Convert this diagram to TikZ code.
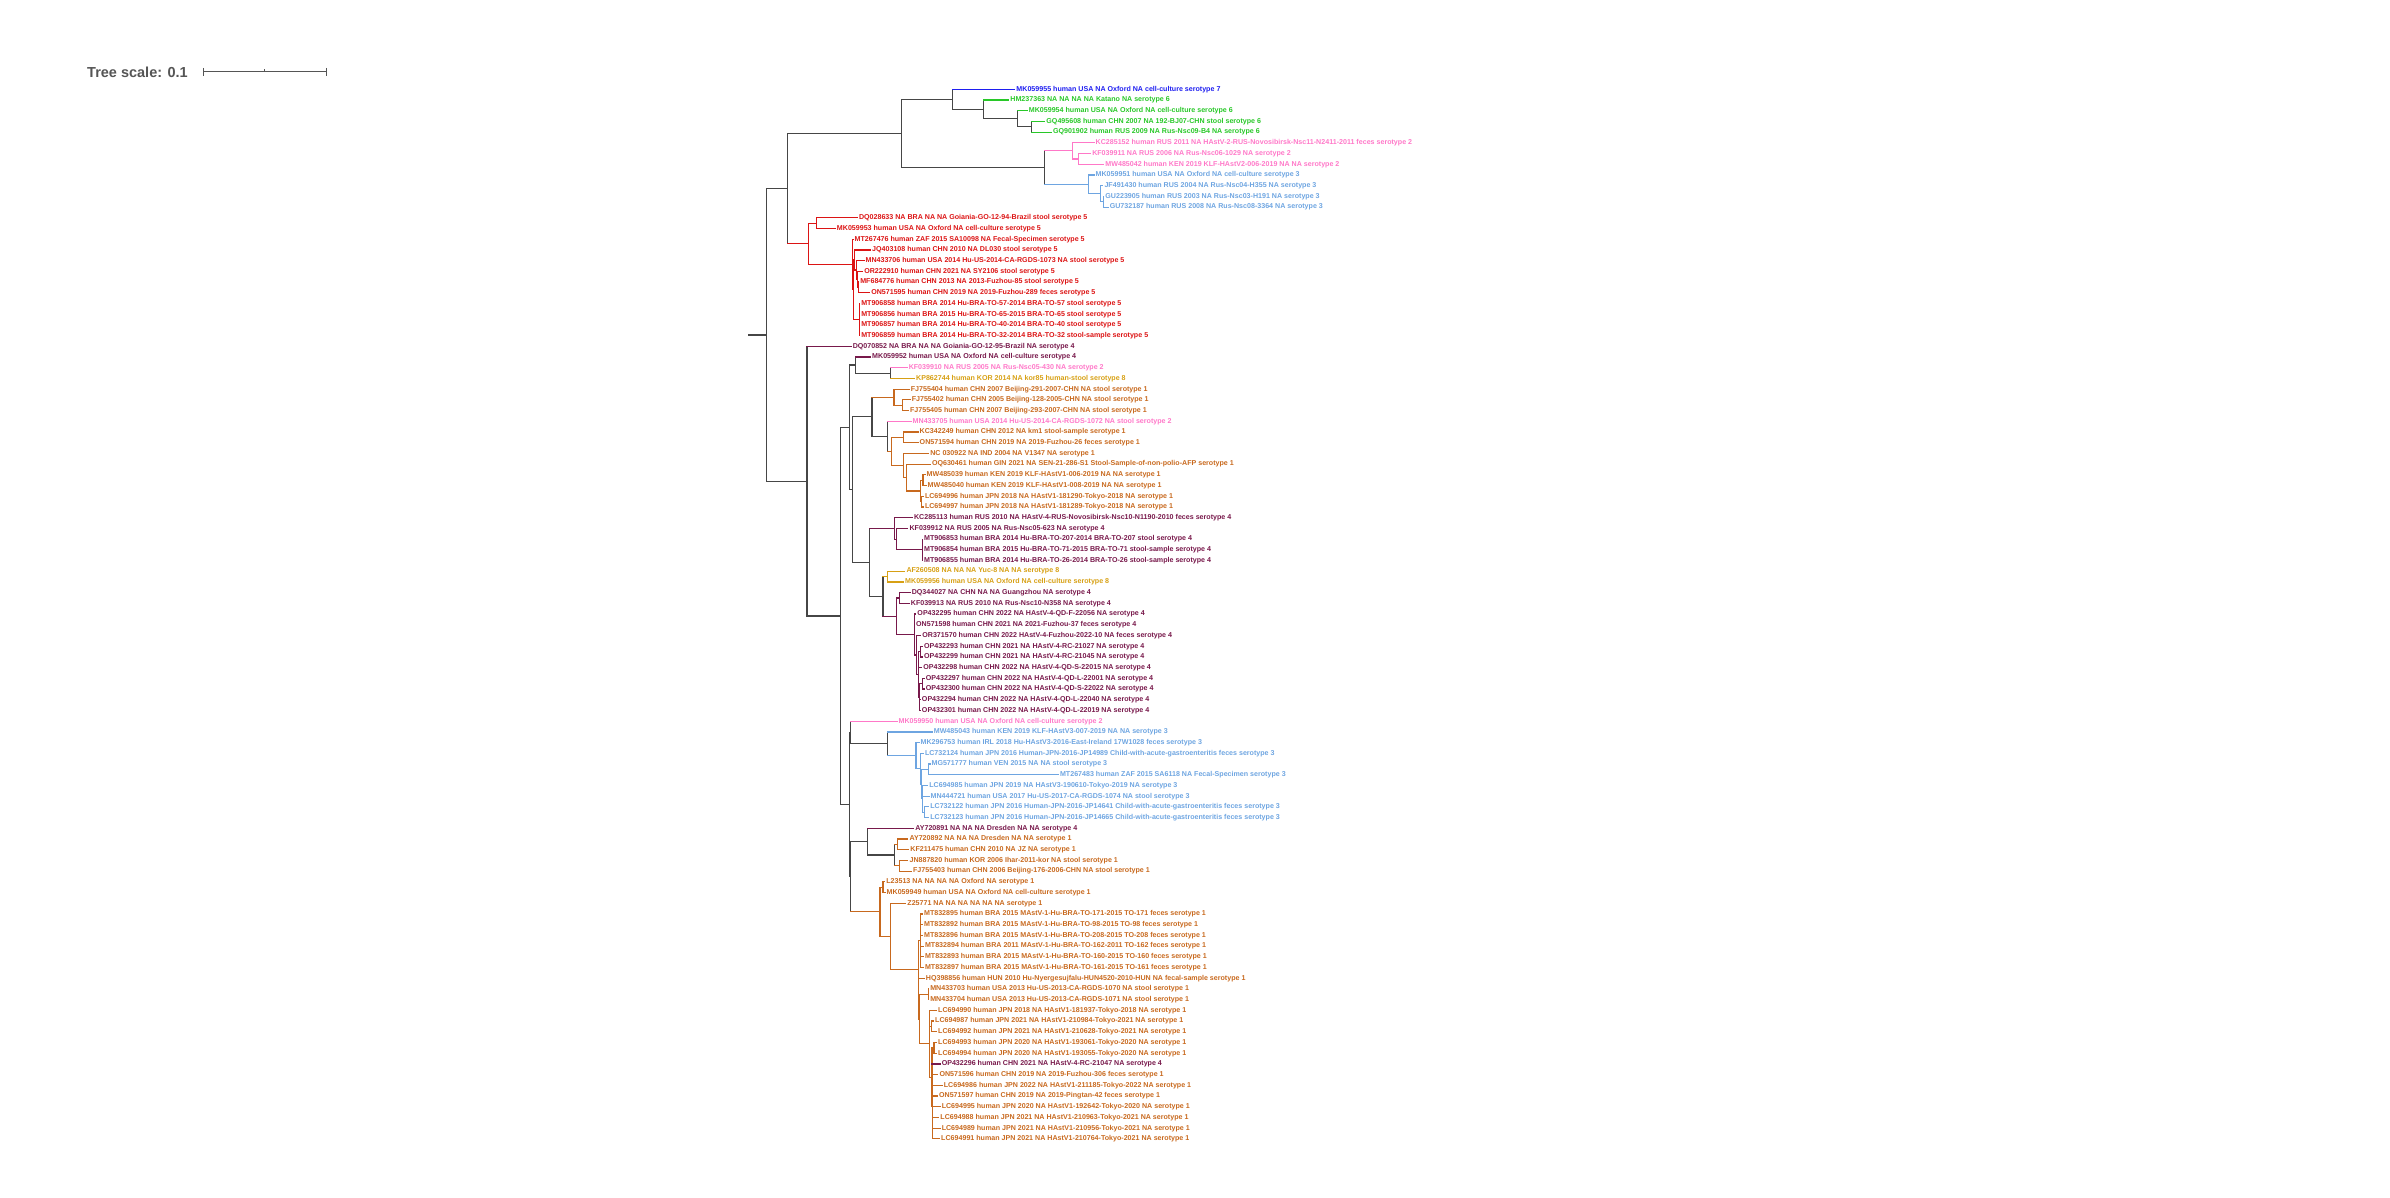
\documentclass[tikz,border=0pt]{standalone}
\usepackage{fontspec}
\setmainfont{Liberation Sans}
\usetikzlibrary{calc}
\definecolor{cblue}{RGB}{30,30,240}
\definecolor{cgreen}{RGB}{40,200,40}
\definecolor{cpink}{RGB}{255,120,200}
\definecolor{clblue}{RGB}{110,165,225}
\definecolor{cred}{RGB}{220,20,20}
\definecolor{cmar}{RGB}{120,25,75}
\definecolor{cgold}{RGB}{215,160,20}
\definecolor{corg}{RGB}{200,105,30}
\definecolor{cgray}{RGB}{70,70,70}
\definecolor{ctitle}{RGB}{85,85,85}
\tikzset{
  lab/.style={anchor=west,inner xsep=1.5pt,inner ysep=0.3pt,font=\fontsize{7.1}{8}\selectfont\bfseries},
  br/.style={line width=1.2pt,line cap=rect},
}
% leaf: name, text x, index, colour, text
\newcommand\lf[5]{%
  \pgfmathsetmacro\xx{740+(#2-740)*1.32-1.5}
  \node[lab,text=#4] (#1) at (\xx,{89.3+(#3-1)*10.71}) {#5};
  \expandafter\gdef\csname c@#1\endcsname{#4}}
% clade: name, x, colour, first child, last child, children
\newcommand\cl[6]{%
  \pgfmathsetmacro\xx{740+(#2-740)*1.32}
  \path let \p1=($(#4)!0.5!(#5)$) in (\xx pt,\y1) coordinate (#1);
  \expandafter\gdef\csname c@#1\endcsname{#3}
  \draw[br,draw=#3] (#1 |- #4) -- (#1 |- #5);
  \foreach \c in {#6}{\edef\cc{\csname c@\c\endcsname}\draw[br,draw=\cc] (#1 |- \c) -- (\c);}}
\begin{document}
\begin{tikzpicture}[x=1pt,y=-1pt]
\useasboundingbox (0,0) rectangle (2390,1198);
% tree scale
\node[anchor=west,inner sep=0pt,text=ctitle,font=\fontsize{14.5}{16}\selectfont\bfseries] (ts) at (87,72) {Tree scale: 0.1};
\coordinate (sa) at (203,72);
\coordinate (sb) at (326,72);
\coordinate (sm) at (264.5,72);
\draw[line width=1pt,ctitle] (sa) -- (sb);
\draw[line width=1pt,ctitle] ($(sa)+(0,-4)$) -- ($(sa)+(0,4)$);
\draw[line width=1pt,ctitle] ($(sb)+(0,-4)$) -- ($(sb)+(0,4)$);
\draw[line width=1pt,ctitle] (sm) -- ($(sm)+(0,-3)$);
% leaves
\lf{l1}{949.3}{1}{cblue}{MK059955 human USA NA Oxford NA cell-culture serotype 7}
\lf{l2}{944.7}{2}{cgreen}{HM237363 NA NA NA NA Katano NA serotype 6}
\lf{l3}{958.7}{3}{cgreen}{MK059954 human USA NA Oxford NA cell-culture serotype 6}
\lf{l4}{972}{4}{cgreen}{GQ495608 human CHN 2007 NA 192-BJ07-CHN stool serotype 6}
\lf{l5}{977}{5}{cgreen}{GQ901902 human RUS 2009 NA Rus-Nsc09-B4 NA serotype 6}
\lf{l6}{1009.3}{6}{cpink}{KC285152 human RUS 2011 NA HAstV-2-RUS-Novosibirsk-Nsc11-N2411-2011 feces serotype 2}
\lf{l7}{1006.7}{7}{cpink}{KF039911 NA RUS 2006 NA Rus-Nsc06-1029 NA serotype 2}
\lf{l8}{1016.7}{8}{cpink}{MW485042 human KEN 2019 KLF-HAstV2-006-2019 NA NA serotype 2}
\lf{l9}{1009.3}{9}{clblue}{MK059951 human USA NA Oxford NA cell-culture serotype 3}
\lf{l10}{1016}{10}{clblue}{JF491430 human RUS 2004 NA Rus-Nsc04-H355 NA serotype 3}
\lf{l11}{1016.7}{11}{clblue}{GU223905 human RUS 2003 NA Rus-Nsc03-H191 NA serotype 3}
\lf{l12}{1020}{12}{clblue}{GU732187 human RUS 2008 NA Rus-Nsc08-3364 NA serotype 3}
\lf{l13}{830}{13}{cred}{DQ028633 NA BRA NA NA Goiania-GO-12-94-Brazil stool serotype 5}
\lf{l14}{813.3}{14}{cred}{MK059953 human USA NA Oxford NA cell-culture serotype 5}
\lf{l15}{826.7}{15}{cred}{MT267476 human ZAF 2015 SA10098 NA Fecal-Specimen serotype 5}
\lf{l16}{840}{16}{cred}{JQ403108 human CHN 2010 NA DL030 stool serotype 5}
\lf{l17}{835}{17}{cred}{MN433706 human USA 2014 Hu-US-2014-CA-RGDS-1073 NA stool serotype 5}
\lf{l18}{834}{18}{cred}{OR222910 human CHN 2021 NA SY2106 stool serotype 5}
\lf{l19}{831}{19}{cred}{MF684776 human CHN 2013 NA 2013-Fuzhou-85 stool serotype 5}
\lf{l20}{839.3}{20}{cred}{ON571595 human CHN 2019 NA 2019-Fuzhou-289 feces serotype 5}
\lf{l21}{831.7}{21}{cred}{MT906858 human BRA 2014 Hu-BRA-TO-57-2014 BRA-TO-57 stool serotype 5}
\lf{l22}{831.7}{22}{cred}{MT906856 human BRA 2015 Hu-BRA-TO-65-2015 BRA-TO-65 stool serotype 5}
\lf{l23}{831.7}{23}{cred}{MT906857 human BRA 2014 Hu-BRA-TO-40-2014 BRA-TO-40 stool serotype 5}
\lf{l24}{831.7}{24}{cred}{MT906859 human BRA 2014 Hu-BRA-TO-32-2014 BRA-TO-32 stool-sample serotype 5}
\lf{l25}{825.3}{25}{cmar}{DQ070852 NA BRA NA NA Goiania-GO-12-95-Brazil NA serotype 4}
\lf{l26}{840}{26}{cmar}{MK059952 human USA NA Oxford NA cell-culture serotype 4}
\lf{l27}{867.7}{27}{cpink}{KF039910 NA RUS 2005 NA Rus-Nsc05-430 NA serotype 2}
\lf{l28}{873.3}{28}{cgold}{KP862744 human KOR 2014 NA kor85 human-stool serotype 8}
\lf{l29}{869.3}{29}{corg}{FJ755404 human CHN 2007 Beijing-291-2007-CHN NA stool serotype 1}
\lf{l30}{870}{30}{corg}{FJ755402 human CHN 2005 Beijing-128-2005-CHN NA stool serotype 1}
\lf{l31}{868.7}{31}{corg}{FJ755405 human CHN 2007 Beijing-293-2007-CHN NA stool serotype 1}
\lf{l32}{870.7}{32}{cpink}{MN433705 human USA 2014 Hu-US-2014-CA-RGDS-1072 NA stool serotype 2}
\lf{l33}{876}{33}{corg}{KC342249 human CHN 2012 NA km1 stool-sample serotype 1}
\lf{l34}{876}{34}{corg}{ON571594 human CHN 2019 NA 2019-Fuzhou-26 feces serotype 1}
\lf{l35}{884}{35}{corg}{NC 030922 NA IND 2004 NA V1347 NA serotype 1}
\lf{l36}{885.3}{36}{corg}{OQ630461 human GIN 2021 NA SEN-21-286-S1 Stool-Sample-of-non-polio-AFP serotype 1}
\lf{l37}{881.3}{37}{corg}{MW485039 human KEN 2019 KLF-HAstV1-006-2019 NA NA serotype 1}
\lf{l38}{882}{38}{corg}{MW485040 human KEN 2019 KLF-HAstV1-008-2019 NA NA serotype 1}
\lf{l39}{880}{39}{corg}{LC694996 human JPN 2018 NA HAstV1-181290-Tokyo-2018 NA serotype 1}
\lf{l40}{880}{40}{corg}{LC694997 human JPN 2018 NA HAstV1-181289-Tokyo-2018 NA serotype 1}
\lf{l41}{871.7}{41}{cmar}{KC285113 human RUS 2010 NA HAstV-4-RUS-Novosibirsk-Nsc10-N1190-2010 feces serotype 4}
\lf{l42}{868.3}{42}{cmar}{KF039912 NA RUS 2005 NA Rus-Nsc05-623 NA serotype 4}
\lf{l43}{879.3}{43}{cmar}{MT906853 human BRA 2014 Hu-BRA-TO-207-2014 BRA-TO-207 stool serotype 4}
\lf{l44}{879.3}{44}{cmar}{MT906854 human BRA 2015 Hu-BRA-TO-71-2015 BRA-TO-71 stool-sample serotype 4}
\lf{l45}{879.3}{45}{cmar}{MT906855 human BRA 2014 Hu-BRA-TO-26-2014 BRA-TO-26 stool-sample serotype 4}
\lf{l46}{866}{46}{cgold}{AF260508 NA NA NA Yuc-8 NA NA serotype 8}
\lf{l47}{865}{47}{cgold}{MK059956 human USA NA Oxford NA cell-culture serotype 8}
\lf{l48}{870}{48}{cmar}{DQ344027 NA CHN NA NA Guangzhou NA serotype 4}
\lf{l49}{869.3}{49}{cmar}{KF039913 NA RUS 2010 NA Rus-Nsc10-N358 NA serotype 4}
\lf{l50}{874.3}{50}{cmar}{OP432295 human CHN 2022 NA HAstV-4-QD-F-22056 NA serotype 4}
\lf{l51}{873.3}{51}{cmar}{ON571598 human CHN 2021 NA 2021-Fuzhou-37 feces serotype 4}
\lf{l52}{878}{52}{cmar}{OR371570 human CHN 2022 HAstV-4-Fuzhou-2022-10 NA feces serotype 4}
\lf{l53}{879.3}{53}{cmar}{OP432293 human CHN 2021 NA HAstV-4-RC-21027 NA serotype 4}
\lf{l54}{879.3}{54}{cmar}{OP432299 human CHN 2021 NA HAstV-4-RC-21045 NA serotype 4}
\lf{l55}{878.7}{55}{cmar}{OP432298 human CHN 2022 NA HAstV-4-QD-S-22015 NA serotype 4}
\lf{l56}{880.7}{56}{cmar}{OP432297 human CHN 2022 NA HAstV-4-QD-L-22001 NA serotype 4}
\lf{l57}{880.7}{57}{cmar}{OP432300 human CHN 2022 NA HAstV-4-QD-S-22022 NA serotype 4}
\lf{l58}{877.7}{58}{cmar}{OP432294 human CHN 2022 NA HAstV-4-QD-L-22040 NA serotype 4}
\lf{l59}{877.7}{59}{cmar}{OP432301 human CHN 2022 NA HAstV-4-QD-L-22019 NA serotype 4}
\lf{l60}{860}{60}{cpink}{MK059950 human USA NA Oxford NA cell-culture serotype 2}
\lf{l61}{886.7}{61}{clblue}{MW485043 human KEN 2019 KLF-HAstV3-007-2019 NA NA serotype 3}
\lf{l62}{876.7}{62}{clblue}{MK296753 human IRL 2018 Hu-HAstV3-2016-East-Ireland 17W1028 feces serotype 3}
\lf{l63}{880}{63}{clblue}{LC732124 human JPN 2016 Human-JPN-2016-JP14989 Child-with-acute-gastroenteritis feces serotype 3}
\lf{l64}{885}{64}{clblue}{MG571777 human VEN 2015 NA NA stool serotype 3}
\lf{l65}{982.3}{65}{clblue}{MT267483 human ZAF 2015 SA6118 NA Fecal-Specimen serotype 3}
\lf{l66}{883.3}{66}{clblue}{LC694985 human JPN 2019 NA HAstV3-190610-Tokyo-2019 NA serotype 3}
\lf{l67}{884.3}{67}{clblue}{MN444721 human USA 2017 Hu-US-2017-CA-RGDS-1074 NA stool serotype 3}
\lf{l68}{884}{68}{clblue}{LC732122 human JPN 2016 Human-JPN-2016-JP14641 Child-with-acute-gastroenteritis feces serotype 3}
\lf{l69}{884}{69}{clblue}{LC732123 human JPN 2016 Human-JPN-2016-JP14665 Child-with-acute-gastroenteritis feces serotype 3}
\lf{l70}{872.7}{70}{cmar}{AY720891 NA NA NA Dresden NA NA serotype 4}
\lf{l71}{868.3}{71}{corg}{AY720892 NA NA NA Dresden NA NA serotype 1}
\lf{l72}{869}{72}{corg}{KF211475 human CHN 2010 NA JZ NA serotype 1}
\lf{l73}{868.3}{73}{corg}{JN887820 human KOR 2006 Ihar-2011-kor NA stool serotype 1}
\lf{l74}{871}{74}{corg}{FJ755403 human CHN 2006 Beijing-176-2006-CHN NA stool serotype 1}
\lf{l75}{850.7}{75}{corg}{L23513 NA NA NA NA Oxford NA serotype 1}
\lf{l76}{851}{76}{corg}{MK059949 human USA NA Oxford NA cell-culture serotype 1}
\lf{l77}{866.7}{77}{corg}{Z25771 NA NA NA NA NA NA serotype 1}
\lf{l78}{879.3}{78}{corg}{MT832895 human BRA 2015 MAstV-1-Hu-BRA-TO-171-2015 TO-171 feces serotype 1}
\lf{l79}{879.3}{79}{corg}{MT832892 human BRA 2015 MAstV-1-Hu-BRA-TO-98-2015 TO-98 feces serotype 1}
\lf{l80}{879.3}{80}{corg}{MT832896 human BRA 2015 MAstV-1-Hu-BRA-TO-208-2015 TO-208 feces serotype 1}
\lf{l81}{880}{81}{corg}{MT832894 human BRA 2011 MAstV-1-Hu-BRA-TO-162-2011 TO-162 feces serotype 1}
\lf{l82}{880}{82}{corg}{MT832893 human BRA 2015 MAstV-1-Hu-BRA-TO-160-2015 TO-160 feces serotype 1}
\lf{l83}{880}{83}{corg}{MT832897 human BRA 2015 MAstV-1-Hu-BRA-TO-161-2015 TO-161 feces serotype 1}
\lf{l84}{880.7}{84}{corg}{HQ398856 human HUN 2010 Hu-Nyergesujfalu-HUN4520-2010-HUN NA fecal-sample serotype 1}
\lf{l85}{884}{85}{corg}{MN433703 human USA 2013 Hu-US-2013-CA-RGDS-1070 NA stool serotype 1}
\lf{l86}{884}{86}{corg}{MN433704 human USA 2013 Hu-US-2013-CA-RGDS-1071 NA stool serotype 1}
\lf{l87}{890}{87}{corg}{LC694990 human JPN 2018 NA HAstV1-181937-Tokyo-2018 NA serotype 1}
\lf{l88}{887.7}{88}{corg}{LC694987 human JPN 2021 NA HAstV1-210984-Tokyo-2021 NA serotype 1}
\lf{l89}{890}{89}{corg}{LC694992 human JPN 2021 NA HAstV1-210628-Tokyo-2021 NA serotype 1}
\lf{l90}{890}{90}{corg}{LC694993 human JPN 2020 NA HAstV1-193061-Tokyo-2020 NA serotype 1}
\lf{l91}{890}{91}{corg}{LC694994 human JPN 2020 NA HAstV1-193055-Tokyo-2020 NA serotype 1}
\lf{l92}{892.7}{92}{cmar}{OP432296 human CHN 2021 NA HAstV-4-RC-21047 NA serotype 4}
\lf{l93}{891}{93}{corg}{ON571596 human CHN 2019 NA 2019-Fuzhou-306 feces serotype 1}
\lf{l94}{894.3}{94}{corg}{LC694986 human JPN 2022 NA HAstV1-211185-Tokyo-2022 NA serotype 1}
\lf{l95}{890.7}{95}{corg}{ON571597 human CHN 2019 NA 2019-Pingtan-42 feces serotype 1}
\lf{l96}{892.7}{96}{corg}{LC694995 human JPN 2020 NA HAstV1-192642-Tokyo-2020 NA serotype 1}
\lf{l97}{891.7}{97}{corg}{LC694988 human JPN 2021 NA HAstV1-210963-Tokyo-2021 NA serotype 1}
\lf{l98}{892.7}{98}{corg}{LC694989 human JPN 2021 NA HAstV1-210956-Tokyo-2021 NA serotype 1}
\lf{l99}{892.3}{99}{corg}{LC694991 human JPN 2021 NA HAstV1-210764-Tokyo-2021 NA serotype 1}
% upper clade
\cl{V5}{960.7}{cgray}{l4}{l5}{l4,l5}
\cl{V4}{950}{cgray}{l3}{V5}{l3,V5}
\cl{V3}{924.3}{cgray}{l2}{V4}{l2,V4}
\cl{V1}{901}{cgray}{l1}{V3}{l1,V3}
\cl{W3}{996.7}{cpink}{l7}{l8}{l7,l8}
\cl{W1}{991.7}{cpink}{l6}{W3}{l6,W3}
\cl{W5}{1015.3}{clblue}{l11}{l12}{l11,l12}
\cl{W4}{1013.3}{clblue}{l10}{W5}{l10,W5}
\cl{W2}{1004}{clblue}{l9}{W4}{l9,W4}
\cl{V2}{970.7}{cgray}{W1}{W2}{W1,W2}
\cl{U1}{862.3}{cgray}{V1}{V2}{V1,V2}
% red clade
\cl{Ra}{797.7}{cred}{l13}{l14}{l13,l14}
\cl{G}{829.5}{cred}{l19}{l20}{l19,l20}
\cl{F}{829}{cred}{l18}{G}{l18,G}
\cl{E}{828}{cred}{l17}{F}{l17,F}
\cl{C}{827}{cred}{l16}{E}{l16,E}
\cl{D}{830.7}{cred}{l21}{l24}{l21,l22,l23,l24}
\cl{B}{826}{cred}{C}{D}{C,D}
\cl{A}{825}{cred}{l15}{B}{l15,B}
\cl{RED}{791.7}{cred}{Ra}{A}{Ra,A}
\cl{N1}{776}{cgray}{U1}{RED}{U1,RED}
% lower part
\cl{G27}{854}{cgray}{l27}{l28}{l27,l28}
\cl{G26}{827.3}{cgray}{l26}{G27}{l26,G27}
\cl{G30}{863.3}{corg}{l30}{l31}{l30,l31}
\cl{G29}{856.7}{corg}{l29}{G30}{l29,G30}
\cl{G34}{864}{corg}{l33}{l34}{l33,l34}
\cl{G38}{878.7}{corg}{l37}{l38}{l37,l38}
\cl{G39}{877.3}{corg}{l39}{l40}{l39,l40}
\cl{G37}{876.7}{corg}{G38}{G39}{G38,G39}
\cl{G36}{866}{corg}{l36}{G37}{l36,G37}
\cl{G35}{864}{corg}{l35}{G36}{l35,G36}
\cl{G33}{855}{corg}{G34}{G35}{G34,G35}
\cl{G32}{851.7}{cgray}{l32}{G33}{l32,G33}
\cl{M1}{840}{cgray}{G29}{G32}{G29,G32}
\cl{K1c}{878.3}{cmar}{l43}{l45}{l43,l44,l45}
\cl{K1b}{858.3}{cmar}{l42}{K1c}{l42,K1c}
\cl{K1}{857.3}{cmar}{l41}{K1b}{l41,K1b}
\cl{G46}{851.7}{cgold}{l46}{l47}{l46,l47}
\cl{K4}{861}{cmar}{l48}{l49}{l48,l49}
\cl{K8}{877}{cmar}{l53}{l54}{l53,l54}
\cl{K10}{878}{cmar}{l56}{l57}{l56,l57}
\cl{K9}{876}{cmar}{K10}{l59}{K10,l58,l59}
\cl{K7}{875}{cmar}{K8}{K9}{K8,l55,K9}
\cl{K6}{874}{cmar}{l52}{K7}{l52,K7}
\cl{K5}{872}{cmar}{l50}{K6}{l50,l51,K6}
\cl{K3}{858.3}{cmar}{K4}{K5}{K4,K5}
\cl{K2}{848.3}{cgray}{G46}{K3}{G46,K3}
\cl{M3}{838.3}{cgray}{K1}{K2}{K1,K2}
\cl{M2}{825}{cgray}{M1}{M3}{M1,M3}
\cl{N4}{822.7}{cgray}{G26}{M2}{G26,M2}
\cl{P8}{880}{clblue}{l68}{l69}{l68,l69}
\cl{P7}{878.3}{clblue}{l66}{P8}{l66,l67,P8}
\cl{P6}{883}{clblue}{l64}{l65}{l64,l65}
\cl{P5}{877.3}{clblue}{P6}{P7}{P6,P7}
\cl{P4}{876.7}{clblue}{l63}{P5}{l63,P5}
\cl{P3}{873.3}{clblue}{l62}{P4}{l62,P4}
\cl{P2}{851.7}{cgray}{l61}{P3}{l61,P3}
\cl{P1}{824}{cgray}{l60}{P2}{l60,P2}
\cl{Q4}{859.3}{corg}{l71}{l72}{l71,l72}
\cl{Q5}{861}{corg}{l73}{l74}{l73,l74}
\cl{Q3}{857.3}{cgray}{Q4}{Q5}{Q4,Q5}
\cl{Q1}{836.7}{cgray}{l70}{Q3}{l70,Q3}
\cl{Q6}{848.3}{corg}{l75}{l76}{l75,l76}
\cl{R1}{877}{corg}{l78}{l83}{l78,l79,l80,l81,l82,l83}
\cl{R4}{882.7}{corg}{l85}{l86}{l85,l86}
\cl{R6}{885}{corg}{l88}{l89}{l88,l89}
\cl{R8}{887}{corg}{l90}{l91}{l90,l91}
\cl{R9}{886}{corg}{l93}{l99}{l93,l94,l95,l96,l97,l98,l99}
\cl{R7}{885.5}{corg}{R8}{R9}{R8,l92,R9}
\cl{R5}{883.3}{corg}{l87}{R7}{l87,R6,R7}
\cl{R3}{876}{corg}{R4}{R5}{R4,R5}
\cl{R2}{875.5}{corg}{l84}{R3}{l84,R3}
\cl{Q8}{875}{corg}{R1}{R2}{R1,R2}
\cl{Q7}{854}{corg}{l77}{Q8}{l77,Q8}
\cl{Q2}{846}{corg}{Q6}{Q7}{Q6,Q7}
\cl{N6}{823.5}{cgray}{Q1}{Q2}{Q1,Q2}
\cl{N5}{822.7}{cgray}{P1}{N6}{P1,N6}
\cl{N3}{816}{cgray}{N4}{N5}{N4,N5}
\cl{N2}{790.7}{cgray}{l25}{N3}{l25,N3}
\cl{ROOT}{760}{cgray}{N1}{N2}{N1,N2}
\path (ROOT) ++(-18,0) coordinate (stub);
\draw[br,cgray] (stub) -- (ROOT);
\end{tikzpicture}
\end{document}
